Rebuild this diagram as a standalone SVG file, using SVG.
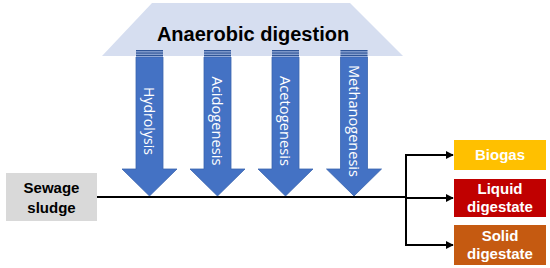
<svg xmlns="http://www.w3.org/2000/svg" width="550" height="268" viewBox="0 0 550 268">
<defs>
<style>
.shaft{fill:#4472C4;stroke:#3A64AE;stroke-width:0.8}
.lbl{font-family:"Open Sans","Liberation Sans",Arial,sans-serif;font-size:14.5px;fill:#fff}
.bt{font-family:"Liberation Sans",Arial,sans-serif;font-weight:bold;font-size:15px;text-anchor:middle}
.ln{stroke:#000;stroke-width:2;fill:none}
</style>
<marker id="ah" viewBox="0 0 10 10" refX="9" refY="5" markerWidth="4" markerHeight="4" orient="auto" markerUnits="strokeWidth">
<path d="M0,0 L10,5 L0,10 z" fill="#000"/>
</marker>
<g id="stripe">
<rect x="-13.5" y="50" width="27" height="7" fill="#9DB3DE"/>
<rect x="-13.5" y="50" width="27" height="1.3" fill="#2F5597"/>
<rect x="-13.5" y="52.4" width="27" height="1.3" fill="#2F5597"/>
<rect x="-13.5" y="54.8" width="27" height="1.3" fill="#2F5597"/>
</g>
</defs>
<rect width="550" height="268" fill="#fff"/>
<g id="anaerobic">
<polygon points="152,3 350,3 403,56 102,56" fill="#D6DEF0"/>
<text x="253" y="41" text-anchor="middle" style="font-family:'Liberation Sans',Arial,sans-serif;font-weight:bold;font-size:20px" fill="#000">Anaerobic digestion</text>
</g>
<g id="hydrolysis">
<path class="shaft" d="M136,57 H163 V169 H177 L149.5,196 L122,169 H136 Z"/>
<use href="#stripe" x="149.5"/>
<text class="lbl" transform="translate(149.5,121) rotate(90)" text-anchor="middle" dominant-baseline="central" textLength="68" lengthAdjust="spacingAndGlyphs">Hydrolysis</text>
</g>
<g id="acidogenesis">
<path class="shaft" d="M204,57 H231 V169 H245 L217.5,196 L190,169 H204 Z"/>
<use href="#stripe" x="217.5"/>
<text class="lbl" transform="translate(217.5,121) rotate(90)" text-anchor="middle" dominant-baseline="central" textLength="89" lengthAdjust="spacingAndGlyphs">Acidogenesis</text>
</g>
<g id="acetogenesis">
<path class="shaft" d="M272,57 H299 V169 H313 L285.5,196 L258,169 H272 Z"/>
<use href="#stripe" x="285.5"/>
<text class="lbl" transform="translate(285.5,121) rotate(90)" text-anchor="middle" dominant-baseline="central" textLength="90" lengthAdjust="spacingAndGlyphs">Acetogenesis</text>
</g>
<g id="methanogenesis">
<path class="shaft" d="M340.5,57 H367.5 V169 H381.5 L354,196 L326.5,169 H340.5 Z"/>
<use href="#stripe" x="354"/>
<text class="lbl" transform="translate(354,121) rotate(90)" text-anchor="middle" dominant-baseline="central" textLength="112" lengthAdjust="spacingAndGlyphs">Methanogenesis</text>
</g>
<g id="sewage">
<rect x="6" y="173" width="91" height="48" fill="#D9D9D9"/>
<text class="bt" x="51.5" y="193" fill="#000">Sewage</text>
<text class="bt" x="51.5" y="213" fill="#000">sludge</text>
</g>
<g id="biogas">
<rect x="454" y="140" width="92" height="30" fill="#FFC000"/>
<text class="bt" x="500" y="160" fill="#fff">Biogas</text>
</g>
<g id="liquid">
<rect x="454" y="179" width="92" height="38" fill="#C00000"/>
<text class="bt" x="500" y="194" fill="#fff">Liquid</text>
<text class="bt" x="500" y="212" fill="#fff">digestate</text>
</g>
<g id="solid">
<rect x="454" y="225" width="92" height="40" fill="#C55A11"/>
<text class="bt" x="500" y="241" fill="#fff">Solid</text>
<text class="bt" x="500" y="259" fill="#fff">digestate</text>
</g>
<g id="connectors">
<line class="ln" x1="97" y1="197" x2="406" y2="197"/>
<line class="ln" x1="406" y1="154" x2="406" y2="246"/>
<line class="ln" x1="405" y1="155" x2="453" y2="155" marker-end="url(#ah)"/>
<line class="ln" x1="406" y1="198" x2="453" y2="198" marker-end="url(#ah)"/>
<line class="ln" x1="405" y1="245" x2="453" y2="245" marker-end="url(#ah)"/>
</g>
</svg>
